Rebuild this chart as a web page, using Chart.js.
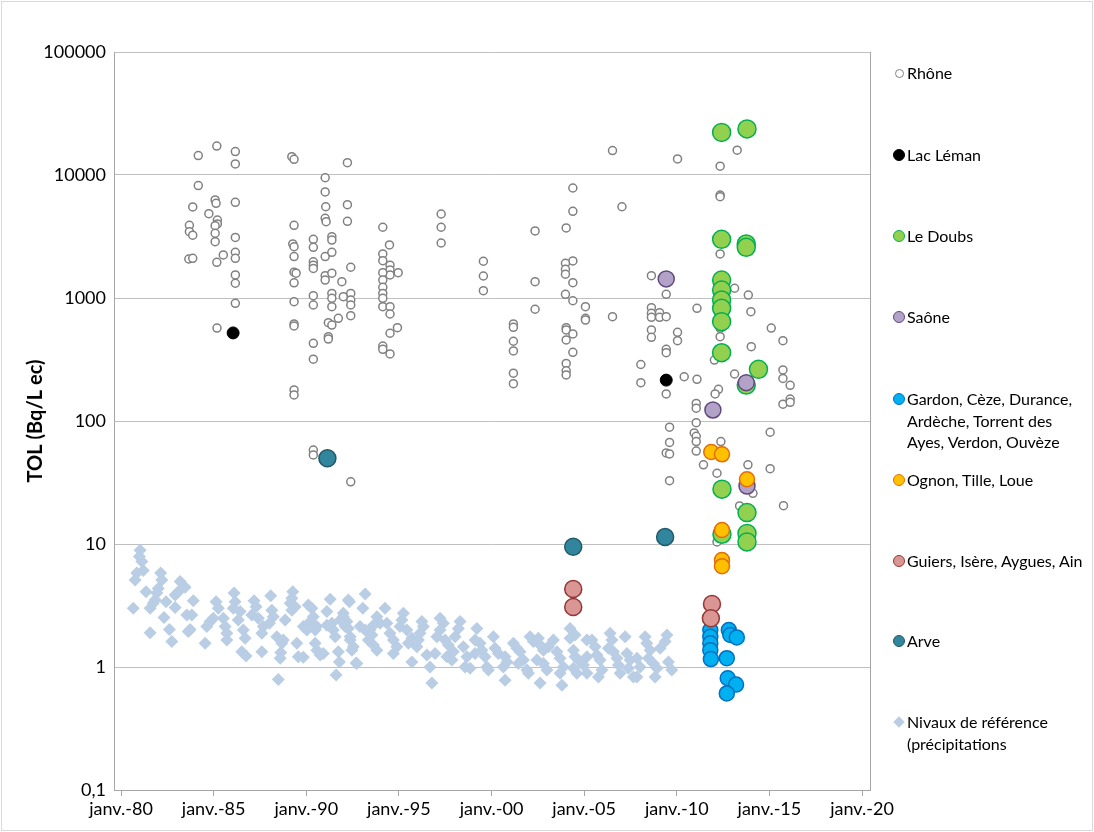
<!DOCTYPE html>
<html>
<head>
<meta charset="utf-8">
<script src="https://cdn.jsdelivr.net/npm/chart.js@4.4.1/dist/chart.umd.min.js"></script>
<style>
html,body{margin:0;padding:0;background:#fff;}
#wrap{position:relative;width:1094px;height:832px;overflow:hidden;background:#fff;}
#frame{position:absolute;left:1px;top:1px;width:1092px;height:830px;border:1px solid #d9d9d9;box-sizing:border-box;pointer-events:none;}
#chart{position:absolute;left:0;top:0;}
.item{position:absolute;left:907px;font-family:Lato,"Open Sans",sans-serif;font-size:16px;line-height:21.5px;color:#000;white-space:nowrap;}
.mk{position:absolute;box-sizing:border-box;border-radius:50%;}
.dia{position:absolute;width:8px;height:8px;background:#b9cde5;transform:rotate(45deg);}
</style>
</head>
<body>
<div id="wrap">
<canvas id="chart" width="1094" height="832"></canvas>
<div id="legend"></div>
<div id="frame"></div>
</div>
<script>
// ---- data: [year, TOL Bq/L ec] ----
const rhone = [
[1984.17,14400],[1985.17,17200],[1986.17,15500],[1986.17,12300],[1984.17,8200],[1983.87,5500],[1985.08,6270],[1985.13,5890],[1986.17,6000],[1984.74,4850],[1985.20,4300],[1985.20,4000],[1983.69,3900],[1983.69,3460],[1983.87,3240],[1985.08,3870],[1985.08,3360],[1985.08,2870],[1986.17,3110],[1983.66,2075],[1983.87,2100],[1985.17,1950],[1985.52,2240],[1986.17,2355],[1986.17,2100],[1986.17,1540],[1986.17,1318],[1986.17,906],[1985.18,570],
[1989.22,14100],[1989.34,13400],[1989.34,3900],[1989.27,2750],[1989.34,2610],[1989.34,2170],[1989.34,1620],[1989.45,1590],[1989.34,1330],[1989.34,933],[1989.34,615],[1989.34,592],[1989.34,179],[1989.34,163],
[1990.38,3000],[1990.38,2580],[1990.38,1970],[1990.38,1850],[1990.38,1740],[1990.38,1044],[1990.38,877],[1990.38,428],[1990.38,318],[1990.38,58],[1990.38,53],
[1991.02,9500],[1991.02,7280],[1991.05,5520],[1991.02,4450],[1991.07,4170],[1991.02,2170],[1991.02,1520],[1991.02,1400],[1991.38,3150],[1991.38,2960],[1991.38,2350],[1991.38,1590],[1991.38,1090],[1991.38,995],[1991.38,850],[1991.19,630],[1991.38,603],[1991.73,684],[1991.19,485],[1991.19,464],[1991.92,1358],[1992.00,1025],
[1992.22,12600],[1992.22,5740],[1992.22,4200],[1992.40,1778],[1992.40,1090],[1992.40,963],[1992.40,877],[1992.40,718],[1992.40,32],
[1994.13,3760],[1994.49,2700],[1994.13,2280],[1994.13,2010],[1994.52,1850],[1994.52,1690],[1994.52,1540],[1994.13,1605],[1994.96,1605],[1994.13,1400],[1994.13,1222],[1994.13,1090],[1994.13,995],[1994.13,850],[1994.52,850],[1994.52,741],[1994.92,574],[1994.52,517],[1994.13,407],[1994.13,383],[1994.52,351],
[1997.28,4820],[1997.28,3760],[1997.28,2800],
[1999.56,1990],[1999.56,1510],[1999.56,1146],
[2001.18,615],[2001.18,578],[2001.18,445],[2001.18,371],[2001.18,245],[2001.18,201],
[2002.35,3510],[2002.35,1358],[2002.35,810],
[2004.03,3710],[2004.39,7840],[2004.39,5070],[2004.39,2000],[2003.99,1915],[2003.99,1711],[2003.99,1560],[2004.39,1332],[2003.99,1072],[2004.39,950],[2005.07,850],[2005.07,684],[2005.07,662],[2004.03,574],[2004.03,550],[2004.39,510],[2004.03,456],[2004.39,362],[2004.03,294],[2004.03,256],[2004.03,237],
[2006.53,15800],[2007.04,5520],[2006.53,705],
[2008.06,288],[2008.06,205],
[2010.04,13500],[2008.63,1520],[2009.43,1072],[2008.63,834],[2008.63,751],[2008.63,697],[2009.07,760],[2009.07,697],[2009.43,705],[2011.09,825],[2008.63,550],[2008.63,479],[2010.04,526],[2010.04,450],[2009.43,383],[2009.43,359],[2009.43,166],[2010.40,229],[2011.09,218],[2012.25,181],[2012.07,166],[2011.05,139],[2011.05,127],[2011.05,97],[2009.61,89],[2010.94,80],[2011.05,75],[2011.05,68],[2009.61,67],[2009.43,55],[2009.61,54],[2011.05,57],[2011.44,44],[2012.17,37.6],[2009.61,32.7],
[2012.34,11800],[2012.34,6870],[2012.34,6660],[2012.34,2280],[2013.26,15900],[2013.12,1200],[2013.86,1057],[2014.00,774],[2015.10,570],[2015.73,450],[2012.34,485],[2012.34,567],[2014.02,402],[2012.03,313],[2013.12,241],[2015.73,260],[2015.73,222],[2016.12,195],[2015.73,137],[2016.12,151],[2016.12,142],[2012.38,68],[2015.04,81],[2013.84,44],[2015.04,41],[2014.11,25.8],[2013.39,20.4],[2015.76,20.5],[2012.17,10.4]
];
const lacLeman = [[1986.05,520],[2009.43,215]];
const doubs = [[2012.42,22200],[2013.79,23700],[2012.42,3000],[2013.75,2750],[2013.75,2580],[2012.42,1400],[2012.42,1160],[2012.42,963],[2012.42,825],[2012.42,642],[2012.42,359],[2014.41,263],[2013.75,196],[2012.44,27.9],[2013.79,18],[2012.44,12],[2013.79,12.2],[2013.79,10.4]];
const saone = [[2009.43,1430],[2011.95,123],[2013.75,205],[2013.79,29.6]];
const gardon = [[2011.81,2.0],[2011.81,1.76],[2011.81,1.56],[2011.81,1.37],[2011.84,1.16],[2012.81,2.0],[2012.89,1.82],[2013.24,1.74],[2012.70,1.18],[2012.75,0.81],[2013.20,0.72],[2012.70,0.61]];
const ognon = [[2011.86,56],[2012.44,53.6],[2013.79,33.6],[2012.44,13],[2012.44,7.4],[2012.44,6.6]];
const guiers = [[2004.41,4.3],[2004.41,3.07],[2011.90,3.25],[2011.84,2.49]];
const arve = [[1991.14,49.8],[2004.41,9.5],[2009.37,11.4]];
const niveaux = [
[1981.03,8.9],[1980.99,7.9],[1981.12,7.2],[1981.20,6.1],[1980.85,5.8],[1980.76,5.1],[1980.66,3.0],[1981.35,4.1],[1981.57,1.9],[1982.14,5.8],[1982.20,5.1],[1982.01,4.35],[1981.93,4.0],[1981.84,3.5],[1981.57,3.0],[1981.74,3.3],[1982.43,3.4],[1982.32,2.53],[1982.61,2.02],[1982.74,1.61],
[1983.19,4.95],[1983.46,4.45],[1982.92,3.85],[1983.09,4.1],[1982.92,3.05],[1983.55,2.65],[1983.82,2.65],[1983.90,3.45],[1983.73,2.02],[1983.63,1.94],[1984.54,1.56],[1984.63,2.13],[1984.81,2.34],[1984.98,2.49],[1985.13,3.4],[1985.25,3.0],[1985.52,2.49],[1985.62,2.13],[1985.71,1.88],[1985.71,1.66],
[1986.10,4.0],[1986.16,3.4],[1986.06,3.0],[1986.43,2.82],[1986.33,2.41],[1986.60,2.0],[1986.70,1.71],[1986.52,1.33],[1986.75,1.23],[1987.18,3.45],[1987.29,3.09],[1987.06,2.65],[1987.41,2.49],[1987.68,2.13],[1987.60,1.88],[1987.60,1.33],
[1988.08,3.8],[1988.14,2.9],[1988.22,2.56],[1988.01,2.27],[1988.49,0.79],[1988.41,1.76],[1988.68,1.56],[1988.76,1.66],[1988.62,1.31],[1988.59,1.18],[1988.86,2.41],[1989.27,4.1],[1989.22,3.63],[1989.13,3.3],[1989.22,2.9],[1989.40,3.09],[1989.49,1.56],[1989.57,1.21],[1989.84,1.2],[1989.84,2.13],
[1990.03,2.0],[1990.11,3.19],[1990.30,3.0],[1990.38,2.56],[1990.21,2.34],[1990.48,1.56],[1990.57,1.37],[1990.75,1.25],[1990.92,1.29],[1990.48,2.0],[1990.57,2.13],[1991.11,2.82],[1991.29,3.55],[1991.11,2.19],[1991.38,2.27],[1991.46,2.0],[1991.56,1.76],[1991.83,2.41],[1992.00,2.56],[1992.10,2.13],[1991.73,1.33],[1991.79,1.10],[1991.61,0.86],[1992.27,3.5],[1992.37,1.66],[1992.54,1.46],[1992.69,1.08],
[1993.18,3.92],[1992.33,3.4],[1993.05,3.0],[1992.00,2.73],[1992.19,2.34],[1992.27,2.06],[1992.37,1.76],[1992.46,1.37],[1994.25,3.0],[1993.81,2.56],[1993.98,2.27],[1994.35,2.27],[1993.62,2.19],[1992.90,2.13],[1993.18,2.0],[1993.44,2.0],[1993.54,1.82],[1993.35,1.66],[1993.62,1.51],[1993.81,1.37],[1992.73,1.07],
[1995.24,2.73],[1995.16,2.41],[1995.06,2.13],[1994.52,1.88],[1994.70,1.66],[1994.89,1.46],[1994.70,1.29],[1995.43,2.0],[1995.70,1.71],[1995.51,1.56],[1996.24,2.34],[1996.32,2.13],[1996.14,1.88],[1996.05,1.66],[1995.97,1.46],[1995.70,1.10],[1996.68,1.0],[1996.78,0.74],[1996.51,1.25],[1996.95,1.29],
[1997.22,2.49],[1997.40,2.27],[1997.22,2.0],[1997.05,1.76],[1997.49,1.66],[1997.67,1.51],[1997.94,1.33],[1997.59,1.21],[1997.86,1.14],[1998.30,2.34],[1998.21,2.06],[1998.03,1.76],[1998.48,1.46],[1998.67,1.21],[1998.57,1.0],[1998.84,0.975],
[1999.21,2.06],[1999.11,1.66],[1999.38,1.56],[1999.48,1.37],[1999.11,1.29],[1999.65,1.21],[1999.75,1.0],[1999.83,0.945],[2000.10,1.76],[2000.19,1.42],[2000.37,1.29],[2000.73,1.21],[2000.83,1.10],[2000.64,1.0],[2000.73,0.78],
[2001.18,1.56],[2001.37,1.42],[2001.54,1.33],[2001.45,1.07],[2001.72,1.14],[2001.91,0.945],[2001.99,0.89],[2002.08,1.76],[2002.26,1.61],[2002.53,1.71],[2002.62,1.51],[2002.80,1.37],[2003.07,1.46],[2003.34,1.66],[2002.45,1.14],[2002.80,1.07],[2002.99,0.945],[2002.62,0.74],
[2003.53,1.33],[2003.70,1.18],[2003.88,1.0],[2003.70,0.89],[2004.24,2.06],[2004.24,1.71],[2004.42,1.37],[2004.69,1.14],[2004.61,0.89],[2005.15,1.66],[2005.15,1.21],[2003.80,0.71],[2004.51,1.82],[2004.51,1.21],[2004.42,0.975],[2004.96,1.04],[2005.15,0.89],
[2005.42,1.66],[2005.59,1.46],[2005.69,1.25],[2005.86,1.14],[2005.96,0.945],[2005.77,0.83],[2006.40,1.88],[2006.50,1.66],[2006.31,1.42],[2006.58,1.33],[2006.77,1.18],[2006.85,1.04],[2006.94,0.89],
[2007.21,1.76],[2007.31,1.29],[2007.48,1.14],[2007.39,0.975],[2007.66,0.83],[2007.85,1.18],[2008.02,1.0],[2007.85,0.83],[2008.29,1.76],[2008.38,1.56],[2008.56,1.37],[2008.47,1.18],[2008.74,1.07],[2008.93,0.975],[2008.83,0.83],
[2009.47,1.82],[2009.37,1.61],[2009.10,1.42],[2009.55,1.10],[2009.73,0.945]
];
const xTickYears = [1980,1985,1990,1995,2000,2005,2010,2015,2020];
const yTickValues = [0.1,1,10,100,1000,10000,100000];
const seriesNames = ["Rhône","Lac Léman","Le Doubs","Saône","Gardon, Cèze, Durance, Ardèche, Torrent des Ayes, Verdon, Ouvèze","Ognon, Tille, Loue","Guiers, Isère, Aygues, Ain","Arve","Nivaux de référence (précipitations"];
const legendLines = [["Rhône"],["Lac Léman"],["Le Doubs"],["Saône"],["Gardon, Cèze, Durance,","Ardèche, Torrent des","Ayes, Verdon, Ouvèze"],["Ognon, Tille, Loue"],["Guiers, Isère, Aygues, Ain"],["Arve"],["Nivaux de référence","(précipitations"]];

const pts = a => a.map(p => ({x:p[0], y:p[1]}));
const FONT = 'Lato, "Open Sans", sans-serif';

const styles = [
  {bg:'#ffffff', bd:'#808080', r:4, bw:1.5, order:9, style:'circle'},
  {bg:'#000000', bd:'#000000', r:6, bw:1, order:2, style:'circle'},
  {bg:'#92d050', bd:'#00b050', r:9, bw:1.5, order:8, style:'circle'},
  {bg:'#b3a2c7', bd:'#604a7b', r:8, bw:1.5, order:4, style:'circle'},
  {bg:'#00b0f0', bd:'#0070c0', r:7.5, bw:1.5, order:7, style:'circle'},
  {bg:'#ffc000', bd:'#e46c0a', r:7.5, bw:1.5, order:3, style:'circle'},
  {bg:'#d99694', bd:'#953735', r:8.5, bw:1.5, order:6, style:'circle'},
  {bg:'#31859c', bd:'#215968', r:8.5, bw:1.5, order:5, style:'circle'},
  {bg:'#b9cde5', bd:'#b9cde5', r:6.5, bw:0, order:10, style:'rectRot'}
];
const allData = [rhone, lacLeman, doubs, saone, gardon, ognon, guiers, arve, niveaux];

const datasets = allData.map((d,i) => ({
  label: seriesNames[i],
  data: pts(d),
  backgroundColor: styles[i].bg,
  borderColor: styles[i].bd,
  pointBackgroundColor: styles[i].bg,
  pointBorderColor: styles[i].bd,
  pointRadius: styles[i].r,
  pointBorderWidth: styles[i].bw,
  pointStyle: styles[i].style,
  order: styles[i].order,
  showLine: false
}));

const frameBox = {
  id:'frameBox',
  beforeDatasetsDraw(chart){
    const a = chart.chartArea, ctx = chart.ctx;
    ctx.save();
    ctx.strokeStyle = '#a6a6a6';
    ctx.lineWidth = 1;
    ctx.beginPath();
    ctx.moveTo(Math.round(a.right)+0.5, a.top);
    ctx.lineTo(Math.round(a.right)+0.5, a.bottom);
    ctx.stroke();
    ctx.restore();
  }
};

new Chart(document.getElementById('chart'), {
  type:'scatter',
  data:{datasets},
  options:{
    responsive:false,
    animation:false,
    devicePixelRatio:1,
    layout:{padding:{left:0,right:224,top:52,bottom:0}},
    plugins:{legend:{display:false}, tooltip:{enabled:false}},
    scales:{
      x:{
        type:'linear', min:1979.62, max:2020.43,
        afterBuildTicks(s){ s.ticks = xTickYears.map(v=>({value:v})); },
        afterFit(s){ s.height = 42; },
        grid:{display:true, drawOnChartArea:false, drawTicks:true, tickLength:6, color:'#a6a6a6'},
        border:{display:true, color:'#a6a6a6', width:1},
        ticks:{color:'#000', font:{family:FONT, size:18}, padding:2, maxRotation:0, autoSkip:false,
          callback:v => 'janv.-' + String(v % 100).padStart(2,'0')}
      },
      y:{
        type:'logarithmic', min:0.1, max:100000,
        afterBuildTicks(s){ s.ticks = yTickValues.map(v=>({value:v})); },
        afterFit(s){ s.width = 114; },
        grid:{color:'#bfbfbf', drawTicks:false},
        border:{display:true, color:'#a6a6a6', width:1},
        title:{display:true, text:'TOL (Bq/L ec)', color:'#000', font:{family:FONT, size:20, weight:'bold'}, padding:{top:24,bottom:0}},
        ticks:{color:'#000', font:{family:FONT, size:18}, padding:8, autoSkip:false,
          callback:v => String(v).replace('.', ',')}
      }
    }
  },
  plugins:[frameBox]
});

// legend (HTML)
const legendTops = [73,155,236,317,399,480,561,641,722];
const lg = document.getElementById('legend');
legendLines.forEach((lines,i) => {
  const cy = legendTops[i];
  const div = document.createElement('div');
  div.className = 'item';
  div.style.top = (cy - 10.75) + 'px';
  div.innerHTML = lines.join('<br>');
  lg.appendChild(div);
  const s = styles[i];
  if (s.style === 'rectRot') {
    const m = document.createElement('div');
    m.className = 'dia';
    m.style.left = (899 - 4) + 'px';
    m.style.top = (cy - 4) + 'px';
    lg.appendChild(m);
  } else {
    const r = i === 0 ? 4.5 : 6;
    const m = document.createElement('div');
    m.className = 'mk';
    m.style.width = (2*r) + 'px';
    m.style.height = (2*r) + 'px';
    m.style.left = (899 - r) + 'px';
    m.style.top = (cy - r) + 'px';
    m.style.background = s.bg;
    m.style.border = (i === 0 ? 1.3 : 1) + 'px solid ' + s.bd;
    lg.appendChild(m);
  }
});
</script>
</body>
</html>
